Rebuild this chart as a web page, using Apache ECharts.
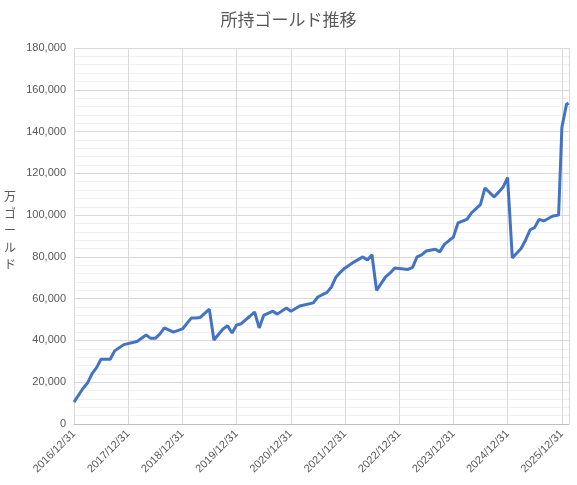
<!DOCTYPE html>
<html>
<head>
<meta charset="utf-8">
<script src="https://cdn.jsdelivr.net/npm/echarts@6/dist/echarts.min.js"></script>
<style>html,body{margin:0;padding:0;background:#fff}#main{width:577px;height:485px}</style>
</head>
<body>
<div id="main"></div>
<script>
// 日付と所持ゴールド(万)
var dates = ['2016-12-31','2017-03-01','2017-04-01','2017-05-01','2017-06-01','2017-07-01','2017-09-01','2017-10-01','2017-12-01',
    '2018-03-01','2018-05-01','2018-06-01','2018-07-01','2018-08-01','2018-09-01','2018-11-01','2019-01-01',
    '2019-03-01','2019-04-01','2019-05-01','2019-07-01','2019-08-01','2019-10-01','2019-11-01','2019-12-01',
    '2020-01-01','2020-02-01','2020-04-01','2020-05-01','2020-06-01','2020-07-01','2020-09-01','2020-10-01','2020-12-01',
    '2021-01-01','2021-03-01','2021-06-01','2021-07-01','2021-09-01','2021-10-01','2021-11-01','2021-12-01',
    '2022-01-01','2022-03-01','2022-05-01','2022-06-01','2022-07-01','2022-08-01','2022-10-01','2022-11-01','2022-12-01',
    '2023-03-01','2023-04-01','2023-05-01','2023-06-01','2023-07-01','2023-09-01','2023-10-01','2023-11-01',
    '2024-01-01','2024-02-01','2024-04-01','2024-05-01','2024-07-01','2024-08-01','2024-10-01','2024-11-01','2024-12-01','2024-12-31',
    '2025-02-01','2025-04-01','2025-05-01','2025-06-01','2025-07-01','2025-08-01','2025-09-01','2025-11-01','2025-12-10',
    '2026-01-01','2026-02-01','2026-02-15'];
var gold = [10500,17000,19600,24000,27000,31000,31000,35000,38000,
    39500,42600,41000,41000,43000,46000,44000,45500,
    50700,50700,51000,55000,40200,45500,47000,43600,
    47400,48000,51700,53600,46000,52000,54000,52600,55500,
    54000,56500,58000,60800,63000,65600,70400,72700,
    74700,77500,80000,78500,81000,64000,70400,72300,74700,
    74000,75000,80000,81000,82800,83700,82400,86000,
    89500,96300,98000,101000,105000,113000,108700,111000,113400,118000,
    79500,84000,88000,93000,94000,98000,97200,99600,100000,
    142000,153000,153600];
var yearEnds = ['2016/12/31','2017/12/31','2018/12/31','2019/12/31','2020/12/31','2021/12/31','2022/12/31','2023/12/31','2024/12/31','2025/12/31'];

var base = Date.parse('2016-12-31');
var seriesData = dates.map(function (d, i) {
    return [(Date.parse(d) - base) / 86400000, gold[i]];
});

var myChart = echarts.init(document.getElementById('main'));
var option = {
    animation: false,
    title: {
        text: '所持ゴールド推移',
        left: 'center',
        top: 6,
        textStyle: { color: '#595959', fontSize: 17, fontWeight: 'normal', fontFamily: 'Noto Sans CJK JP' }
    },
    graphic: [{
        type: 'text',
        left: 4,
        top: 188,
        style: { text: '万\nゴ\nー\nル\nド', fill: '#595959', font: '12px "Noto Sans CJK JP"', lineHeight: 17 }
    }],
    grid: { left: 74, right: 8, top: 48, bottom: 61 },
    xAxis: {
        type: 'value',
        min: 0,
        max: (Date.parse('2026-02-18') - base) / 86400000,
        interval: 365.25,
        axisLine: { lineStyle: { color: '#bfbfbf' } },
        axisTick: { show: false },
        splitLine: { show: true, lineStyle: { color: '#d9d9d9' } },
        axisLabel: {
            rotate: 45,
            color: '#595959',
            fontSize: 11,
            showMaxLabel: false,
            formatter: function (v) {
                return yearEnds[Math.round(v / 365.25)] || '';
            }
        }
    },
    yAxis: {
        type: 'value',
        min: 0,
        max: 180000,
        interval: 20000,
        axisLine: { show: false },
        axisTick: { show: false },
        axisLabel: { color: '#595959', fontSize: 11 },
        splitLine: { lineStyle: { color: '#d9d9d9' } },
        minorTick: { show: false, splitNumber: 5 },
        minorSplitLine: { show: true, lineStyle: { color: '#f0f0f0' } }
    },
    series: [{
        type: 'line',
        data: seriesData,
        showSymbol: false,
        lineStyle: { color: '#4472c4', width: 3 }
    }]
};
myChart.setOption(option);
</script>
</body>
</html>
